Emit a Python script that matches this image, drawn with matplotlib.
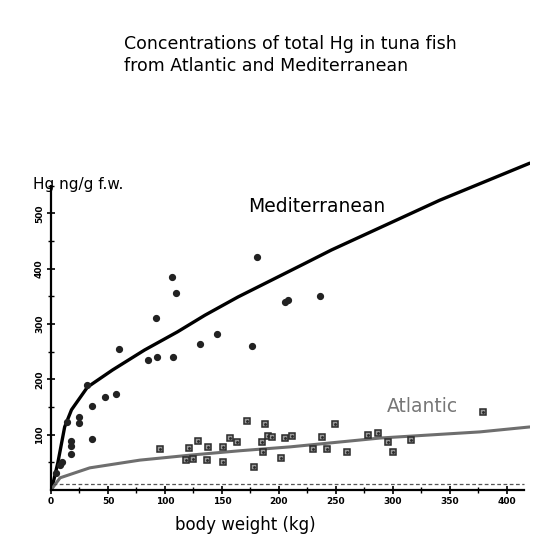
import matplotlib
matplotlib.use("Agg")
import matplotlib.pyplot as plt
from matplotlib.ticker import FixedLocator

# fitted curves (body weight kg, Hg ng/g)
medCurveX = [0, 1, 6, 12, 18, 32, 54, 82, 111, 135, 164, 194, 223, 246, 341, 420]
medCurveY = [0, 5, 49, 114, 145, 186, 217, 253, 286, 316, 349, 380, 410, 434, 524, 591]
atlCurveX = [0, 8, 34, 78, 122, 166, 210, 289, 376, 420]
atlCurveY = [0, 22, 40, 54, 63, 71, 78, 94, 105, 114]

# measured fish
medX = [4, 8, 10, 14, 18, 18, 18, 25, 25, 32, 36, 36, 47, 57, 60, 85, 92, 93, 106,
        107, 110, 131, 146, 176, 181, 205, 208, 236]
medY = [30, 45, 51, 123, 89, 80, 65, 132, 121, 190, 152, 92, 168, 174, 255, 235, 311,
        241, 385, 241, 356, 264, 282, 260, 421, 340, 344, 351]
atlX = [96, 118, 121, 125, 129, 137, 138, 151, 151, 157, 163, 172, 178, 185, 186, 188,
        190, 194, 202, 205, 211, 230, 238, 242, 249, 260, 278, 287, 296, 300, 316, 379]
atlY = [74, 54, 76, 56, 89, 54, 78, 78, 51, 94, 87, 125, 42, 87, 69, 119,
        98, 96, 58, 94, 98, 74, 96, 74, 119, 69, 99, 103, 87, 69, 90, 141]

xTicks = [0, 50, 100, 150, 200, 250, 300, 350, 400]
yTicks = [100, 200, 300, 400, 500]

plt.rcParams['font.family'] = ['DejaVu Sans']

fig = plt.figure(figsize=(5.4, 5.41), dpi=100)
ax = fig.add_axes([0.0944, 0.0943, 0.8867, 0.6133])

# curves
ax.plot(medCurveX, medCurveY, color="black", lw=2.4, solid_capstyle="round")
ax.plot(atlCurveX, atlCurveY, color="#6e6e6e", lw=2.2, solid_capstyle="round")

# points
ax.plot(medX, medY, "o", color="#222222", ms=4.2)
ax.plot(atlX, atlY, "s", mfc="#9a9a9a", mec="#2a2a2a", mew=1.1, ms=4.5)
ax.plot(atlX, atlY, ".", color="#2a2a2a", ms=2)

# dashed line just above the axis
ax.plot([2, 415], [11, 11], color="#555555", lw=0.9, ls=(0, (3, 2)))

ax.set_xlim(0, 420)
ax.set_ylim(0, 600)
for s in ["top", "right"]:
    ax.spines[s].set_visible(False)
ax.spines["left"].set_bounds(0, 550)
ax.spines["bottom"].set_bounds(0, 415)
ax.spines["left"].set_linewidth(1.6)
ax.spines["bottom"].set_linewidth(1.6)

ax.set_xticks(xTicks)
ax.set_xticklabels([str(v) for v in xTicks], fontsize=6.5, fontweight="bold")
ax.xaxis.set_minor_locator(FixedLocator([25, 75, 125, 175, 225, 275, 325, 375]))
ax.set_yticks(yTicks)
ax.set_yticklabels([str(v) for v in yTicks], fontsize=6.5, fontweight="bold",
                   rotation=90, va="center")
ax.yaxis.set_minor_locator(FixedLocator([50, 150, 250, 350, 450, 550]))
ax.tick_params(axis="both", which="major", direction="inout", length=6, width=1.2, pad=2)
ax.tick_params(axis="both", which="minor", direction="inout", length=4, width=1.0)

fig.text(248 / 540, 1 - 207 / 541, "Mediterranean", fontsize=13.5, va="center")
fig.text(387 / 540, 1 - 406 / 541, "Atlantic", fontsize=13.5, va="center", color="#777777")
fig.text(33 / 540, 1 - 185 / 541, "Hg ng/g f.w.", fontsize=11, va="center")
fig.text(175 / 540, 1 - 525 / 541, "body weight (kg)", fontsize=12, va="center")
fig.text(124 / 540, 1 - 55 / 541,
         "Concentrations of total Hg in tuna fish\nfrom Atlantic and Mediterranean",
         fontsize=12.5, va="center", linespacing=1.25)

fig.savefig("out.png", dpi=100)
